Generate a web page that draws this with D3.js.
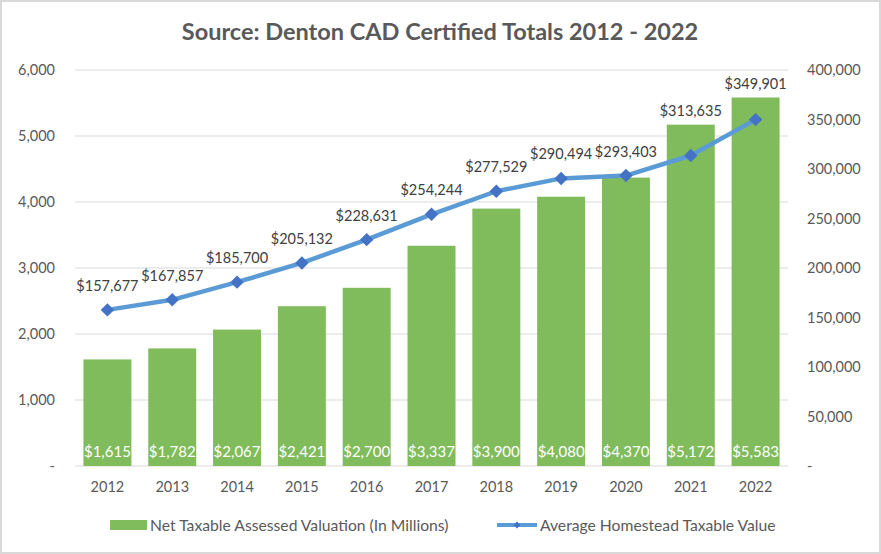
<!DOCTYPE html>
<html>
<head>
<meta charset="utf-8">
<script src="https://cdn.jsdelivr.net/npm/d3@7"></script>
<style>
  body { margin: 0; background: #fff; }
  svg { display: block; font-family: Lato, "Open Sans", sans-serif; }
</style>
</head>
<body>
<svg id="chart"></svg>
<script>
// chart data
const years = ['2012', '2013', '2014', '2015', '2016', '2017', '2018', '2019', '2020', '2021', '2022'];
const netTaxable = [1615, 1782, 2067, 2421, 2700, 3337, 3900, 4080, 4370, 5172, 5583];
const homestead = [157677, 167857, 185700, 205132, 228631, 254244, 277529, 290494, 293403, 313635, 349901];
const leftTicks = [0, 1000, 2000, 3000, 4000, 5000, 6000];
const rightTicks = [0, 50000, 100000, 150000, 200000, 250000, 300000, 350000, 400000];
const seriesNames = ['Net Taxable Assessed Valuation (In Millions)', 'Average Homestead Taxable Value'];

const W = 881, H = 554;
const margin = { top: 70, right: 93, bottom: 88, left: 75 };
const width = W - margin.left - margin.right;
const height = H - margin.top - margin.bottom;

const barColor = '#80bb5c';
const lineColor = '#5b9bd5';
const markColor = '#4472c4';
const textColor = '#595959';

const svg = d3.select('#chart')
    .attr('width', W)
    .attr('height', H);

// outer border
svg.append('rect')
    .attr('x', 1).attr('y', 1)
    .attr('width', W - 2).attr('height', H - 2)
    .attr('fill', '#fff')
    .attr('stroke', '#d9d9d9')
    .attr('stroke-width', 2);

svg.append('text')
    .attr('x', 440)
    .attr('y', 40)
    .attr('text-anchor', 'middle')
    .attr('font-size', '23.5px')
    .attr('font-weight', 'bold')
    .attr('fill', textColor)
    .text('Source: Denton CAD Certified Totals 2012 - 2022');

const chart = svg.append('g')
    .attr('transform', `translate(${margin.left},${margin.top})`);

const x = d3.scaleBand()
    .domain(years)
    .range([0, width])
    .paddingInner(0.26)
    .paddingOuter(0.13);

const yL = d3.scaleLinear().domain([0, 6000]).range([height, 0]);
const yR = d3.scaleLinear().domain([0, 400000]).range([height, 0]);

const fmtTick = v => v === 0 ? '-' : d3.format(',')(v);

// gridlines
chart.append('g')
    .selectAll('line')
    .data(leftTicks)
    .join('line')
    .attr('x1', 0).attr('x2', width)
    .attr('y1', d => yL(d)).attr('y2', d => yL(d))
    .attr('stroke', '#d9d9d9')
    .attr('stroke-width', 1);

function styleAxis(g) {
    g.select('.domain').remove();
    g.selectAll('text')
        .attr('font-family', 'Lato, sans-serif')
        .attr('font-size', '14.5px')
        .attr('fill', textColor);
}

// left axis
chart.append('g')
    .call(d3.axisLeft(yL).tickValues(leftTicks).tickFormat(fmtTick).tickSize(0).tickPadding(20))
    .call(styleAxis);

// right axis
chart.append('g')
    .attr('transform', `translate(${width},0)`)
    .call(d3.axisRight(yR).tickValues(rightTicks).tickFormat(fmtTick).tickSize(0).tickPadding(19))
    .call(styleAxis);

// bottom axis
chart.append('g')
    .attr('transform', `translate(0,${height})`)
    .call(d3.axisBottom(x).tickSize(0).tickPadding(16))
    .call(styleAxis);

// bars
chart.selectAll('.bar')
    .data(years)
    .join('rect')
    .attr('class', 'bar')
    .attr('x', d => x(d))
    .attr('width', x.bandwidth())
    .attr('y', (d, i) => yL(netTaxable[i]))
    .attr('height', (d, i) => height - yL(netTaxable[i]))
    .attr('fill', barColor);

chart.selectAll('.bar-label')
    .data(years)
    .join('text')
    .attr('class', 'bar-label')
    .attr('x', d => x(d) + x.bandwidth() / 2)
    .attr('y', height - 9)
    .attr('text-anchor', 'middle')
    .attr('font-size', '15px')
    .attr('fill', '#fff')
    .text((d, i) => '$' + d3.format(',')(netTaxable[i]));

// line
const cx = d => x(d) + x.bandwidth() / 2;
const line = d3.line()
    .x(d => cx(d))
    .y((d, i) => yR(homestead[i]));

chart.append('path')
    .datum(years)
    .attr('d', line)
    .attr('fill', 'none')
    .attr('stroke', lineColor)
    .attr('stroke-width', 4.5)
    .attr('stroke-linejoin', 'round');

chart.selectAll('.mark')
    .data(years)
    .join('path')
    .attr('class', 'mark')
    .attr('d', d3.symbol(d3.symbolDiamond2, 115))
    .attr('transform', (d, i) => `translate(${cx(d)},${yR(homestead[i])})`)
    .attr('fill', markColor);

// line labels, lifted over the bar top when they would overlap it
chart.selectAll('.line-label')
    .data(years)
    .join('text')
    .attr('class', 'line-label')
    .attr('x', d => cx(d))
    .attr('y', (d, i) => Math.min(yR(homestead[i]) - 24, yL(netTaxable[i]) - 14) + 5)
    .attr('text-anchor', 'middle')
    .attr('font-size', '14.5px')
    .attr('fill', '#404040')
    .text((d, i) => '$' + d3.format(',')(homestead[i]));

// legend
const legend = svg.append('g')
    .attr('transform', `translate(0,525)`);

legend.append('rect')
    .attr('x', 110).attr('y', -5)
    .attr('width', 37).attr('height', 10)
    .attr('fill', barColor);
legend.append('text')
    .attr('x', 150).attr('y', 5.5)
    .attr('font-size', '15.7px')
    .attr('fill', textColor)
    .text(seriesNames[0]);

legend.append('line')
    .attr('x1', 497).attr('x2', 537)
    .attr('y1', 0).attr('y2', 0)
    .attr('stroke', lineColor)
    .attr('stroke-width', 4);
legend.append('path')
    .attr('d', d3.symbol(d3.symbolDiamond2, 30))
    .attr('transform', 'translate(517,0)')
    .attr('fill', markColor);
legend.append('text')
    .attr('x', 540).attr('y', 5.5)
    .attr('font-size', '15.7px')
    .attr('fill', textColor)
    .text(seriesNames[1]);
</script>
</body>
</html>
